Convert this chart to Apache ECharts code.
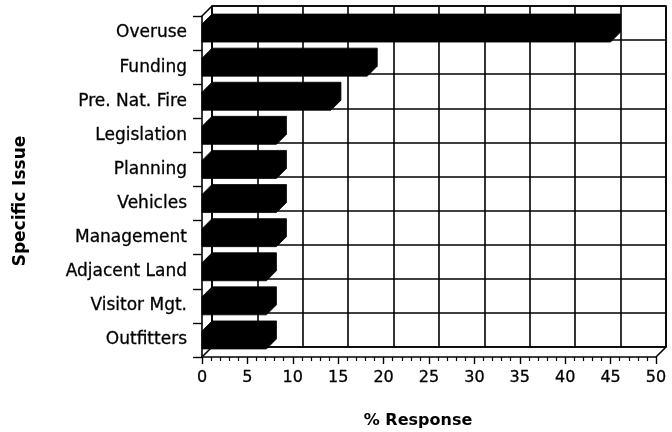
<!DOCTYPE html>
<html>
<head>
<meta charset="utf-8">
<script src="https://cdn.jsdelivr.net/npm/echarts@6/dist/echarts.min.js"></script>
<style>
  html, body { margin: 0; padding: 0; background: #fff; }
  #chart { width: 672px; height: 432px; }
</style>
</head>
<body>
<div id="chart"></div>
<script>
// Issues, top to bottom
const issues = ['Overuse', 'Funding', 'Pre. Nat. Fire', 'Legislation', 'Planning',
  'Vehicles', 'Management', 'Adjacent Land', 'Visitor Mgt.', 'Outfitters'];
// Share of responses (%)
const responses = [45.0, 18.2, 14.2, 8.2, 8.2, 8.2, 8.2, 7.1, 7.1, 7.1];
// Value axis range and step
const xMin = 0, xMax = 50, xStep = 5;
const xTitle = '% Response';
const yTitle = 'Specific Issue';

const DEPTH = 10;        // perspective offset of the back wall (px)
const BAR_H = 18;        // front face height of a bar (px)
const FONT = 'DejaVu Sans';
const INK = '#000';
const LW = 1.6;

const chart = echarts.init(document.getElementById('chart'), null, { renderer: 'canvas' });

// 3D bar drawn as one solid outline: front face plus top and right faces
function renderBar(params, api) {
  const v = api.value(0), idx = api.value(1);
  const p0 = api.coord([0, idx]);
  const p1 = api.coord([v, idx]);
  const x0 = p0[0], x1 = p1[0];
  const yb = p0[1] + BAR_H / 2, yt = p0[1] - BAR_H / 2;
  const d = DEPTH;
  return {
    type: 'polygon',
    shape: {
      points: [[x0, yt], [x0 + d, yt - d], [x1 + d, yt - d], [x1 + d, yb - d], [x1, yb], [x0, yb]]
    },
    style: { fill: INK, stroke: INK, lineWidth: 0.8 }
  };
}

// Corner edges joining the front axes to the back wall
function renderFrame(params, api) {
  const n = issues.length;
  const band = api.size([0, 1])[1];
  const xa = api.coord([xMin, 0])[0];
  const xb = api.coord([xMax, 0])[0];
  const yTop = api.coord([xMin, 0])[1] - band / 2;
  const yBot = api.coord([xMin, n - 1])[1] + band / 2;
  const d = DEPTH;
  const st = { stroke: INK, lineWidth: LW };
  return {
    type: 'group',
    children: [
      { type: 'line', shape: { x1: xa, y1: yTop, x2: xa + d, y2: yTop - d }, style: st },
      { type: 'line', shape: { x1: xa, y1: yBot, x2: xa + d, y2: yBot - d }, style: st },
      { type: 'line', shape: { x1: xb, y1: yBot, x2: xb + d, y2: yBot - d }, style: st }
    ]
  };
}

const FRONT = { left: 202, right: 16, top: 16, bottom: 75 };
const BACK = {
  left: FRONT.left + DEPTH, right: FRONT.right - DEPTH,
  top: FRONT.top - DEPTH, bottom: FRONT.bottom + DEPTH
};

const labelStyle = {
  color: INK, fontFamily: FONT, textBorderColor: INK, textBorderWidth: 0.3
};

chart.setOption({
  animation: false,
  backgroundColor: '#fff',
  textStyle: { fontFamily: FONT },
  grid: [
    Object.assign({ show: false }, FRONT),
    Object.assign({ show: true, borderColor: INK, borderWidth: LW, backgroundColor: 'transparent' }, BACK)
  ],
  xAxis: [
    {
      type: 'value', gridIndex: 0, min: xMin, max: xMax, interval: xStep,
      axisLine: { show: true, lineStyle: { color: INK, width: LW } },
      axisTick: { show: true, inside: false, length: 7, lineStyle: { color: INK, width: 1.4 } },
      minorTick: { show: true, splitNumber: 5, length: 4, lineStyle: { color: INK, width: 1.2 } },
      splitLine: { show: false },
      axisLabel: Object.assign({ fontSize: 16, margin: 13 }, labelStyle)
    },
    {
      type: 'value', gridIndex: 1, min: xMin, max: xMax, interval: xStep,
      axisLine: { show: false }, axisTick: { show: false }, axisLabel: { show: false },
      splitLine: { show: true, lineStyle: { color: INK, width: LW } }
    }
  ],
  yAxis: [
    {
      type: 'category', gridIndex: 0, data: issues, inverse: true,
      axisLine: { show: true, lineStyle: { color: INK, width: LW } },
      axisTick: { show: true, length: 9, lineStyle: { color: INK, width: 1.4 } },
      splitLine: { show: false },
      axisLabel: Object.assign({ fontSize: 17, margin: 15 }, labelStyle)
    },
    {
      type: 'category', gridIndex: 1, data: issues, inverse: true,
      axisLine: { show: false }, axisTick: { show: false }, axisLabel: { show: false },
      splitLine: { show: true, lineStyle: { color: INK, width: LW } }
    }
  ],
  graphic: [
    {
      type: 'text', x: 418, y: 421,
      style: { text: xTitle, fill: INK, font: 'bold 16px "DejaVu Sans"', align: 'center', verticalAlign: 'middle' }
    },
    {
      type: 'text', x: 21, y: 201, rotation: Math.PI / 2,
      style: { text: yTitle, fill: INK, font: 'bold 17px "DejaVu Sans"', align: 'center', verticalAlign: 'middle' }
    }
  ],
  series: [
    {
      type: 'custom', name: 'frame', xAxisIndex: 0, yAxisIndex: 0,
      renderItem: renderFrame, data: [[0, 0]], silent: true, z: 3
    },
    {
      type: 'custom', name: 'responses', xAxisIndex: 0, yAxisIndex: 0,
      renderItem: renderBar, encode: { x: 0, y: 1 },
      data: responses.map((v, i) => [v, i]), z: 2
    }
  ]
});
</script>
</body>
</html>
